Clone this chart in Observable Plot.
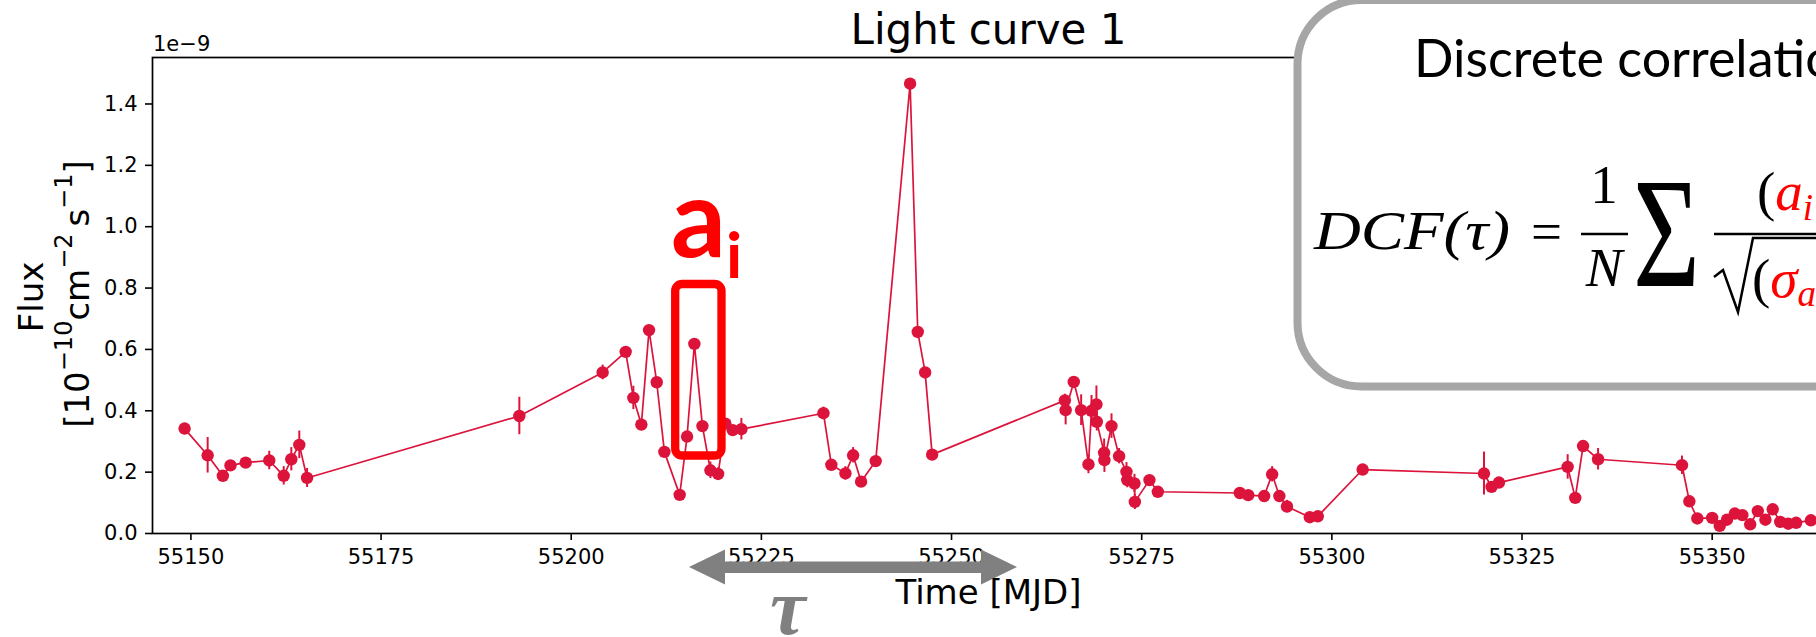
<!DOCTYPE html>
<html><head><meta charset="utf-8">
<script src="https://cdn.jsdelivr.net/npm/d3@7"></script>
<script src="https://cdn.jsdelivr.net/npm/@observablehq/plot@0.6"></script>
<style>html,body{margin:0;padding:0;background:#fff;overflow:hidden;width:1816px;height:637px}#chart svg{display:block;max-width:none!important}</style>
</head><body><div id="chart"></div><script>
// Light curve 1 — time [MJD], flux [1e-9], flux error [1e-9]
const times = [55149.17,55152.2,55154.2,55155.2,55157.2,55160.3,55162.2,55163.2,55164.25,55165.27,
  55193.18,55204.13,55207.16,55208.17,55209.22,55210.23,55211.24,55212.25,55214.26,55215.23,
  55216.19,55217.25,55218.3,55219.31,55220.27,55221.23,55222.37,55233.16,55234.2,55236.05,
  55237.06,55238.11,55240.03,55244.55,55245.56,55246.53,55247.45,55264.9,55265.0,55266.07,
  55267.04,55268.0,55268.4,55269.05,55269.1,55270.06,55270.1,55271.03,55272.03,55273.0,
  55273.1,55274.05,55274.1,55276.02,55277.12,55287.9,55289.0,55291.1,55292.15,55293.1,
  55294.1,55297.1,55298.15,55304.05,55320.0,55321.0,55321.97,55331.0,55332.0,55333.03,
  55335.0,55346.03,55347.0,55348.05,55350.0,55351.0,55351.95,55352.98,55353.97,55355.0,
  55356.0,55357.0,55357.96,55358.95,55360.0,55361.04,55362.98];
const flux = [0.342,0.255,0.188,0.222,0.231,0.238,0.188,0.242,0.289,0.181,
  0.383,0.525,0.592,0.442,0.355,0.663,0.493,0.266,0.126,0.316,
  0.618,0.350,0.206,0.194,0.358,0.337,0.340,0.392,0.224,0.196,
  0.255,0.169,0.236,1.466,0.657,0.525,0.257,0.434,0.402,0.494,
  0.402,0.225,0.400,0.421,0.364,0.263,0.239,0.350,0.252,0.201,
  0.174,0.163,0.103,0.174,0.136,0.132,0.125,0.122,0.193,0.122,
  0.088,0.053,0.056,0.2085,0.1955,0.152,0.166,0.217,0.116,0.285,
  0.242,0.2225,0.105,0.049,0.051,0.025,0.045,0.065,0.060,0.030,
  0.073,0.045,0.079,0.038,0.032,0.035,0.043];
const fluxErr = [0.010,0.058,0.015,0.012,0.015,0.030,0.030,0.038,0.045,0.031,
  0.061,0.024,0.015,0.038,0.018,0.012,0.012,0.012,0.012,0.012,
  0.012,0.015,0.027,0.020,0.015,0.015,0.035,0.020,0.012,0.022,
  0.025,0.012,0.015,0.012,0.012,0.012,0.012,0.020,0.048,0.015,
  0.050,0.030,0.050,0.060,0.030,0.045,0.040,0.040,0.025,0.030,
  0.025,0.030,0.025,0.012,0.012,0.012,0.012,0.012,0.025,0.012,
  0.020,0.012,0.012,0.012,0.070,0.012,0.012,0.040,0.012,0.015,
  0.035,0.030,0.012,0.012,0.012,0.012,0.012,0.012,0.012,0.012,
  0.012,0.012,0.012,0.012,0.012,0.012,0.012];
const xTickValues = [55150,55175,55200,55225,55250,55275,55300,55325,55350];
const yTickValues = [0.0,0.2,0.4,0.6,0.8,1.0,1.2,1.4];
const titleText = "Light curve 1";
const xLabel = "Time [MJD]";
const offsetText = "1e\u22129";

const data = times.map((t, i) => ({t, f: flux[i], e: fluxErr[i]}));
const C = "#dc143c";

const svg = Plot.plot({
  width: 1826, height: 637,
  marginLeft: 152, marginRight: 1, marginTop: 57, marginBottom: 104,
  style: {fontFamily: "DejaVu Sans", fontSize: "21px", background: "white", color: "black", overflow: "hidden"},
  x: {domain: [55144.95, 55364.9]},
  y: {domain: [0, 1.5515]},
  marks: [
    Plot.ruleX(data, {x: "t", y1: d => d.f - d.e, y2: d => d.f + d.e, stroke: C, strokeWidth: 2}),
    Plot.line(data, {x: "t", y: "f", stroke: C, strokeWidth: 1.7}),
    Plot.dot(data, {x: "t", y: "f", r: 6.2, fill: C, stroke: "none"}),
    Plot.frame({stroke: "black", strokeWidth: 1.7}),
    Plot.axisX({ticks: xTickValues, tickFormat: d => String(d), tickSize: 7, tickPadding: 9, fontSize: 21, strokeWidth: 1.6, label: null}),
    Plot.axisY({ticks: yTickValues, tickFormat: d => d.toFixed(1), tickSize: 7, tickPadding: 8, fontSize: 21, strokeWidth: 1.6, label: null})
  ]
});
document.getElementById("chart").appendChild(svg);

const s = d3.select(svg);
function tx(x, y, txt, attrs) {
  const t = s.append("text").attr("x", x).attr("y", y).attr("text-anchor", "start").attr("fill", "black");
  Object.entries(attrs || {}).forEach(([k, v]) => t.attr(k, v));
  return t.text(txt);
}
// title, offset text, axis labels
tx(988.5, 44, titleText, {"text-anchor": "middle", "font-family": "DejaVu Sans", "font-size": 42});
tx(153, 51, offsetText, {"font-family": "DejaVu Sans", "font-size": 21});

s.append("text").attr("transform", "translate(43,297) rotate(-90)").attr("text-anchor", "middle")
  .attr("font-family", "DejaVu Sans").attr("font-size", 34).attr("fill", "black").text("Flux");
const yl2 = s.append("text").attr("transform", "translate(89,294) rotate(-90)").attr("text-anchor", "middle")
  .attr("font-family", "DejaVu Sans").attr("font-size", 34).attr("fill", "black");
yl2.append("tspan").text("[10");
yl2.append("tspan").attr("dy", -17).attr("font-size", 24).text("\u221210");
yl2.append("tspan").attr("dy", 17).text("cm");
yl2.append("tspan").attr("dy", -17).attr("font-size", 24).text("\u22122");
yl2.append("tspan").attr("dy", 17).text("\u2009s");
yl2.append("tspan").attr("dy", -17).attr("font-size", 24).text("\u22121");
yl2.append("tspan").attr("dy", 17).text("]");

// annotation: gray double arrow (tau)
s.append("polygon").attr("fill", "#808080")
  .attr("points", "689,567 725,549.5 725,561.5 981,561.5 981,549.5 1017,567 981,584.5 981,573 725,573 725,584.5");
tx(988.5, 604, xLabel, {"text-anchor": "middle", "font-family": "DejaVu Sans", "font-size": 34});
tx(770, 634, "\u03c4", {"font-family": "Liberation Serif", "font-style": "italic", "font-weight": "bold",
  "font-size": 80, "fill": "#808080"});

// annotation: red box a_i
s.append("rect").attr("x", 675.2).attr("y", 284).attr("width", 46.3).attr("height", 171.5).attr("rx", 7)
  .attr("fill", "none").attr("stroke", "#ff0000").attr("stroke-width", 8.3);
tx(671, 257, "a", {"font-family": "Lato", "font-weight": "bold", "font-size": 110, "fill": "#ff0000",
  "textLength": 55, "lengthAdjust": "spacingAndGlyphs"});
tx(726, 278, "i", {"font-family": "Lato", "font-weight": "bold", "font-size": 64, "fill": "#ff0000"});

// annotation: rounded box with DCF formula
s.append("rect").attr("x", 1297.5).attr("y", 0).attr("width", 700).attr("height", 386.5).attr("rx", 64)
  .attr("fill", "white").attr("stroke", "#a6a6a6").attr("stroke-width", 8);
tx(1414, 77, "Discrete correlation function", {"font-family": "Lato", "font-size": 52});
const ms = {"font-family": "Liberation Serif", "font-size": 55};
const mt = (x, y, txt, extra) => tx(x, y, txt, Object.assign({}, ms, extra || {}));
mt(1314, 249, "DCF(\u03c4)", {"font-style": "italic", "textLength": 196, "lengthAdjust": "spacingAndGlyphs"});
mt(1531, 250, "=");
mt(1604, 203, "1", {"text-anchor": "middle"});
mt(1604, 286, "N", {"font-style": "italic", "text-anchor": "middle"});
s.append("line").attr("x1", 1581).attr("x2", 1628).attr("y1", 234).attr("y2", 234).attr("stroke", "black").attr("stroke-width", 2.5);
mt(1633, 286, "\u03a3", {"font-size": 156, "textLength": 67, "lengthAdjust": "spacingAndGlyphs"});
s.append("line").attr("x1", 1714).attr("x2", 1900).attr("y1", 234).attr("y2", 234).attr("stroke", "black").attr("stroke-width", 2.5);
const num = mt(1757, 210, "");
num.append("tspan").text("(");
num.append("tspan").attr("fill", "#ff0000").attr("font-style", "italic").text("a");
num.append("tspan").attr("fill", "#ff0000").attr("font-style", "italic").attr("font-size", 37).attr("dy", 10).text("i");
num.append("tspan").attr("dy", -10).text(" \u2212 \u0101)(b");
s.append("path").attr("d", "M1714,277 L1723,270 L1738,312 L1753,238 L1900,238").attr("fill", "none")
  .attr("stroke", "black").attr("stroke-width", 2.5);
const den = mt(1752, 297, "");
den.append("tspan").text("(");
den.append("tspan").attr("fill", "#ff0000").attr("font-style", "italic").text("\u03c3");
den.append("tspan").attr("fill", "#ff0000").attr("font-style", "italic").attr("font-size", 37).attr("dy", 9).text("a");
den.append("tspan").attr("dy", -9).text("\u00b2");
</script></body></html>
